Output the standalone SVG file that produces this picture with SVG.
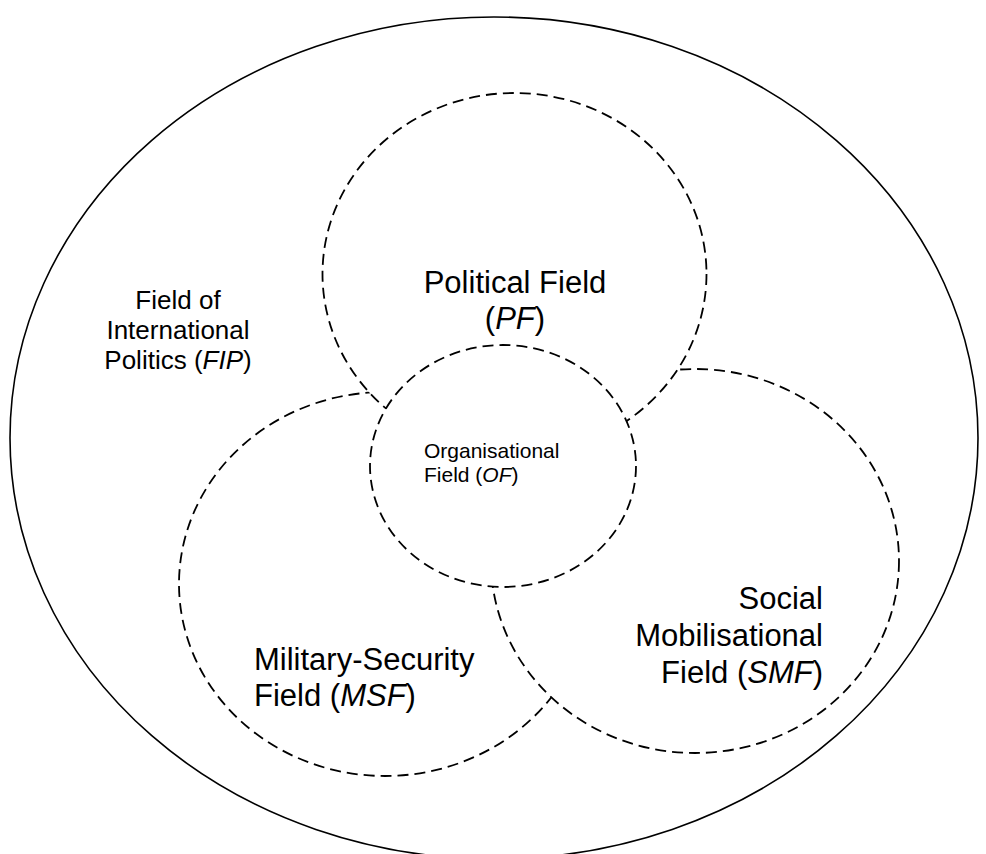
<svg xmlns="http://www.w3.org/2000/svg" width="986" height="854" viewBox="0 0 986 854">
<style>
.outer{fill:#fff;stroke:#000;stroke-width:1.6}
.field{fill:#fff;stroke:#000;stroke-width:1.8;stroke-dasharray:11 6}
text{font-family:"Liberation Sans",Arial,sans-serif;fill:#000}
.big{font-size:31px}
.mid{font-size:26px}
.small{font-size:21px}
</style>
<rect x="0" y="0" width="986" height="854" fill="#fff"/>
<g id="FIP">
<ellipse class="outer" cx="494" cy="438" rx="484" ry="421"/>
</g>
<g id="MSF">
<ellipse class="field" cx="385" cy="584" rx="206" ry="192"/>
</g>
<g id="SMF">
<ellipse class="field" cx="695" cy="561" rx="204" ry="192"/>
</g>
<g id="PF">
<ellipse class="field" cx="514.5" cy="274" rx="192" ry="181"/>
</g>
<g id="OF">
<ellipse class="field" cx="503" cy="466" rx="133" ry="121"/>
</g>
<g id="connectors"></g>
<g id="labels">
<g id="FIP-label" class="mid" text-anchor="middle">
<text x="178" y="309">Field of</text>
<text x="178" y="339">International</text>
<text x="178" y="369">Politics (<tspan font-style="italic">FIP</tspan>)</text>
</g>
<g id="PF-label" class="big" text-anchor="middle">
<text x="515" y="293">Political Field</text>
<text x="515" y="329">(<tspan font-style="italic">PF</tspan>)</text>
</g>
<g id="OF-label" class="small">
<text x="424" y="458">Organisational</text>
<text x="424" y="482">Field (<tspan font-style="italic">OF</tspan>)</text>
</g>
<g id="MSF-label" class="big">
<text x="254" y="670">Military-Security</text>
<text x="254" y="706">Field (<tspan font-style="italic">MSF</tspan>)</text>
</g>
<g id="SMF-label" class="big" text-anchor="end">
<text x="823" y="609">Social</text>
<text x="823" y="646">Mobilisational</text>
<text x="823" y="683">Field (<tspan font-style="italic">SMF</tspan>)</text>
</g>
</g>
</svg>
